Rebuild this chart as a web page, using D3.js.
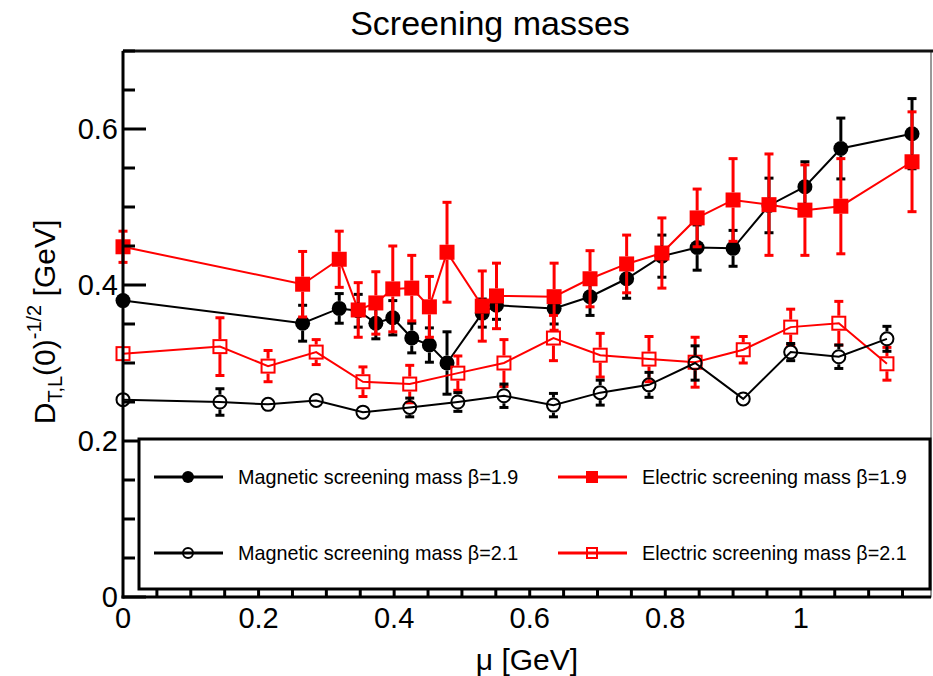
<!DOCTYPE html>
<html>
<head>
<meta charset="utf-8">
<script src="https://cdn.jsdelivr.net/npm/d3@7"></script>
<style>
  body { margin: 0; background: #fff; }
  svg { font-family: "Liberation Sans", Arial, Helvetica, sans-serif; }
</style>
</head>
<body>
<div id="chart"></div>
<script>
// ===============================================================
// Data
// ===============================================================
const muB19 = [0, 0.265, 0.319, 0.347, 0.373, 0.398, 0.426, 0.452, 0.478, 0.530, 0.551,
  0.636, 0.689, 0.743, 0.795, 0.847, 0.900, 0.953, 1.006, 1.059, 1.164];
const magB19 = [0.380, 0.351, 0.370, 0.367, 0.351, 0.358, 0.332, 0.323, 0.300, 0.364, 0.374,
  0.370, 0.385, 0.408, 0.437, 0.448, 0.447, 0.502, 0.526, 0.575, 0.594];
const magB19Err = [0.008, 0.023, 0.019, 0.021, 0.020, 0.022, 0.019, 0.022, 0.040, 0.018, 0.018,
  0.020, 0.024, 0.025, 0.027, 0.029, 0.023, 0.035, 0.032, 0.039, 0.045];
const eleB19 = [0.449, 0.401, 0.433, 0.368, 0.377, 0.395, 0.396, 0.372, 0.442, 0.373, 0.386,
  0.385, 0.408, 0.427, 0.441, 0.486, 0.509, 0.503, 0.496, 0.501, 0.558];
const eleB19Err = [0.020, 0.042, 0.036, 0.035, 0.040, 0.055, 0.042, 0.039, 0.064, 0.045, 0.042,
  0.043, 0.036, 0.037, 0.045, 0.037, 0.053, 0.065, 0.058, 0.061, 0.064];

const muB21 = [0, 0.143, 0.214, 0.285, 0.354, 0.423, 0.494, 0.562, 0.635, 0.704, 0.776,
  0.844, 0.915, 0.985, 1.056, 1.127];
const magB21 = [0.253, 0.250, 0.247, 0.252, 0.237, 0.243, 0.250, 0.258, 0.246, 0.262, 0.272,
  0.300, 0.254, 0.314, 0.308, 0.331];
const magB21Err = [0.006, 0.017, 0.008, 0.006, 0.006, 0.012, 0.012, 0.015, 0.015, 0.016, 0.016,
  0.022, 0.006, 0.011, 0.015, 0.016];
const eleB21 = [0.312, 0.321, 0.296, 0.314, 0.276, 0.273, 0.287, 0.300, 0.332, 0.310, 0.305,
  0.301, 0.317, 0.346, 0.351, 0.299];
const eleB21Err = [0.006, 0.037, 0.020, 0.016, 0.019, 0.024, 0.022, 0.030, 0.029, 0.028, 0.029,
  0.032, 0.017, 0.023, 0.028, 0.021];

const xTicks = [0, 0.2, 0.4, 0.6, 0.8, 1];
const yTicks = [0, 0.2, 0.4, 0.6];
const legendLabels = [
  'Magnetic screening mass \u03b2=1.9',
  'Electric screening mass \u03b2=1.9',
  'Magnetic screening mass \u03b2=2.1',
  'Electric screening mass \u03b2=2.1'
];

// ===============================================================
// Setup
// ===============================================================
const width = 933, height = 676;
const box = {left: 123, right: 931, top: 51, bottom: 597};

const svg = d3.select('#chart').append('svg')
  .attr('width', width)
  .attr('height', height);

const x = d3.scaleLinear().domain([0, 1.192]).range([box.left, box.right]);
const y = d3.scaleLinear().domain([0, 0.7]).range([box.bottom, box.top]);

const series = [
  {mu: muB19, val: magB19, err: magB19Err, color: '#000', shape: 'circle', filled: true},
  {mu: muB19, val: eleB19, err: eleB19Err, color: '#ff0000', shape: 'square', filled: true},
  {mu: muB21, val: eleB21, err: eleB21Err, color: '#ff0000', shape: 'square', filled: false},
  {mu: muB21, val: magB21, err: magB21Err, color: '#000', shape: 'circle', filled: false}
];

// frame
svg.append('rect')
  .attr('x', box.left).attr('y', box.top)
  .attr('width', box.right - box.left).attr('height', box.bottom - box.top)
  .attr('fill', '#fff')
  .attr('stroke', '#333').attr('stroke-width', 1);
svg.append('line')
  .attr('x1', box.left).attr('x2', width).attr('y1', box.top).attr('y2', box.top)
  .attr('stroke', '#111').attr('stroke-width', 3);

// ===============================================================
// Series: error bars, lines, markers
// ===============================================================
function draw_marker(g, cx, cy, s, size) {
  if (s.shape === 'circle') {
    g.append('circle')
      .attr('cx', cx).attr('cy', cy).attr('r', s.filled ? size / 2 : size / 2 - 1)
      .attr('fill', s.filled ? s.color : 'none')
      .attr('stroke', s.color).attr('stroke-width', s.filled ? 0 : 2);
  } else {
    const h = s.filled ? size / 2 : size / 2 - 1;
    g.append('rect')
      .attr('x', cx - h).attr('y', cy - h).attr('width', 2 * h).attr('height', 2 * h)
      .attr('fill', s.filled ? s.color : 'none')
      .attr('stroke', s.color).attr('stroke-width', s.filled ? 0 : 2);
  }
}

const plot = svg.append('g');
series.forEach(s => {
  const g = plot.append('g');
  const pts = s.mu.map((m, i) => ({m, v: s.val[i], e: s.err[i]}));
  const r = 7.5;

  // error bars, drawn outside the marker only
  pts.forEach(p => {
    const cx = x(p.m), cy = y(p.v);
    const top = y(p.v + p.e), bot = y(p.v - p.e);
    if (cy - top <= r) return;
    [[top, cy - r], [cy + r, bot]].forEach(([a, b]) => {
      g.append('line')
        .attr('x1', cx).attr('x2', cx).attr('y1', a).attr('y2', b)
        .attr('stroke', s.color).attr('stroke-width', 3);
    });
    [top, bot].forEach(yy => {
      g.append('line')
        .attr('x1', cx - 4.5).attr('x2', cx + 4.5).attr('y1', yy).attr('y2', yy)
        .attr('stroke', s.color).attr('stroke-width', 3);
    });
  });

  g.append('path')
    .datum(pts)
    .attr('fill', 'none')
    .attr('stroke', s.color)
    .attr('stroke-width', 2)
    .attr('d', d3.line().x(d => x(d.m)).y(d => y(d.v)));

  pts.forEach(p => draw_marker(g, x(p.m), y(p.v), s, 15));
});

// ===============================================================
// Axes
// ===============================================================
const axisG = svg.append('g');
axisG.append('line')
  .attr('x1', box.left).attr('x2', box.left).attr('y1', box.top).attr('y2', box.bottom + 1.5)
  .attr('stroke', '#000').attr('stroke-width', 3);
axisG.append('line')
  .attr('x1', box.left - 1.5).attr('x2', box.right).attr('y1', box.bottom).attr('y2', box.bottom)
  .attr('stroke', '#000').attr('stroke-width', 3);

d3.range(0, 0.7001, 0.05).forEach(v => {
  const major = Math.abs(v / 0.2 - Math.round(v / 0.2)) < 1e-6;
  axisG.append('line')
    .attr('x1', box.left).attr('x2', box.left + (major ? 23 : 12))
    .attr('y1', y(v)).attr('y2', y(v))
    .attr('stroke', '#000').attr('stroke-width', 3);
});
d3.range(0.05, 1.19, 0.05).forEach(v => {
  const major = Math.abs(v / 0.2 - Math.round(v / 0.2)) < 1e-6;
  axisG.append('line')
    .attr('x1', x(v)).attr('x2', x(v))
    .attr('y1', box.bottom).attr('y2', box.bottom - (major ? 23 : 12))
    .attr('stroke', '#000').attr('stroke-width', 3);
});

// ===============================================================
// Legend
// ===============================================================
const legend = svg.append('g');
legend.append('rect')
  .attr('x', 139).attr('y', 439).attr('width', 791).attr('height', 150)
  .attr('fill', '#fff').attr('stroke', '#000').attr('stroke-width', 3);

const legendPos = [[154, 477], [558, 477], [154, 553], [558, 553]];
const legendSeries = [series[0], series[1], series[3], series[2]];
legendLabels.forEach((label, i) => {
  const [lx, ly] = legendPos[i];
  const s = legendSeries[i];
  legend.append('line')
    .attr('x1', lx).attr('x2', lx + 69).attr('y1', ly).attr('y2', ly)
    .attr('stroke', s.color).attr('stroke-width', 3);
  draw_marker(legend, lx + 34, ly, s, 12);
  legend.append('text')
    .attr('x', lx + 84).attr('y', ly + 7)
    .attr('font-size', 19.8)
    .text(label);
});

// tick labels
svg.append('g').selectAll('text')
  .data(yTicks)
  .join('text')
  .attr('x', 118).attr('y', d => y(d) + 10)
  .attr('text-anchor', 'end')
  .attr('font-size', 29)
  .text(d => d);
svg.append('g').selectAll('text')
  .data(xTicks)
  .join('text')
  .attr('x', d => x(d)).attr('y', 628)
  .attr('text-anchor', 'middle')
  .attr('font-size', 29)
  .text(d => d);

// titles
svg.append('text')
  .attr('x', 490).attr('y', 35)
  .attr('text-anchor', 'middle')
  .attr('font-size', 34)
  .text('Screening masses');

svg.append('text')
  .attr('x', 527).attr('y', 670)
  .attr('text-anchor', 'middle')
  .attr('font-size', 30)
  .text('\u03bc [GeV]');

const ylab = svg.append('text')
  .attr('transform', 'translate(55,322) rotate(-90)')
  .attr('text-anchor', 'middle')
  .attr('font-size', 30);
ylab.append('tspan').text('D');
ylab.append('tspan').attr('font-size', 20).attr('dy', 7).text('T,L');
ylab.append('tspan').attr('dy', -7).text('(0)');
ylab.append('tspan').attr('font-size', 20).attr('dy', -14).text('-1/2');
ylab.append('tspan').attr('dy', 14).text(' [GeV]');
</script>
</body>
</html>
